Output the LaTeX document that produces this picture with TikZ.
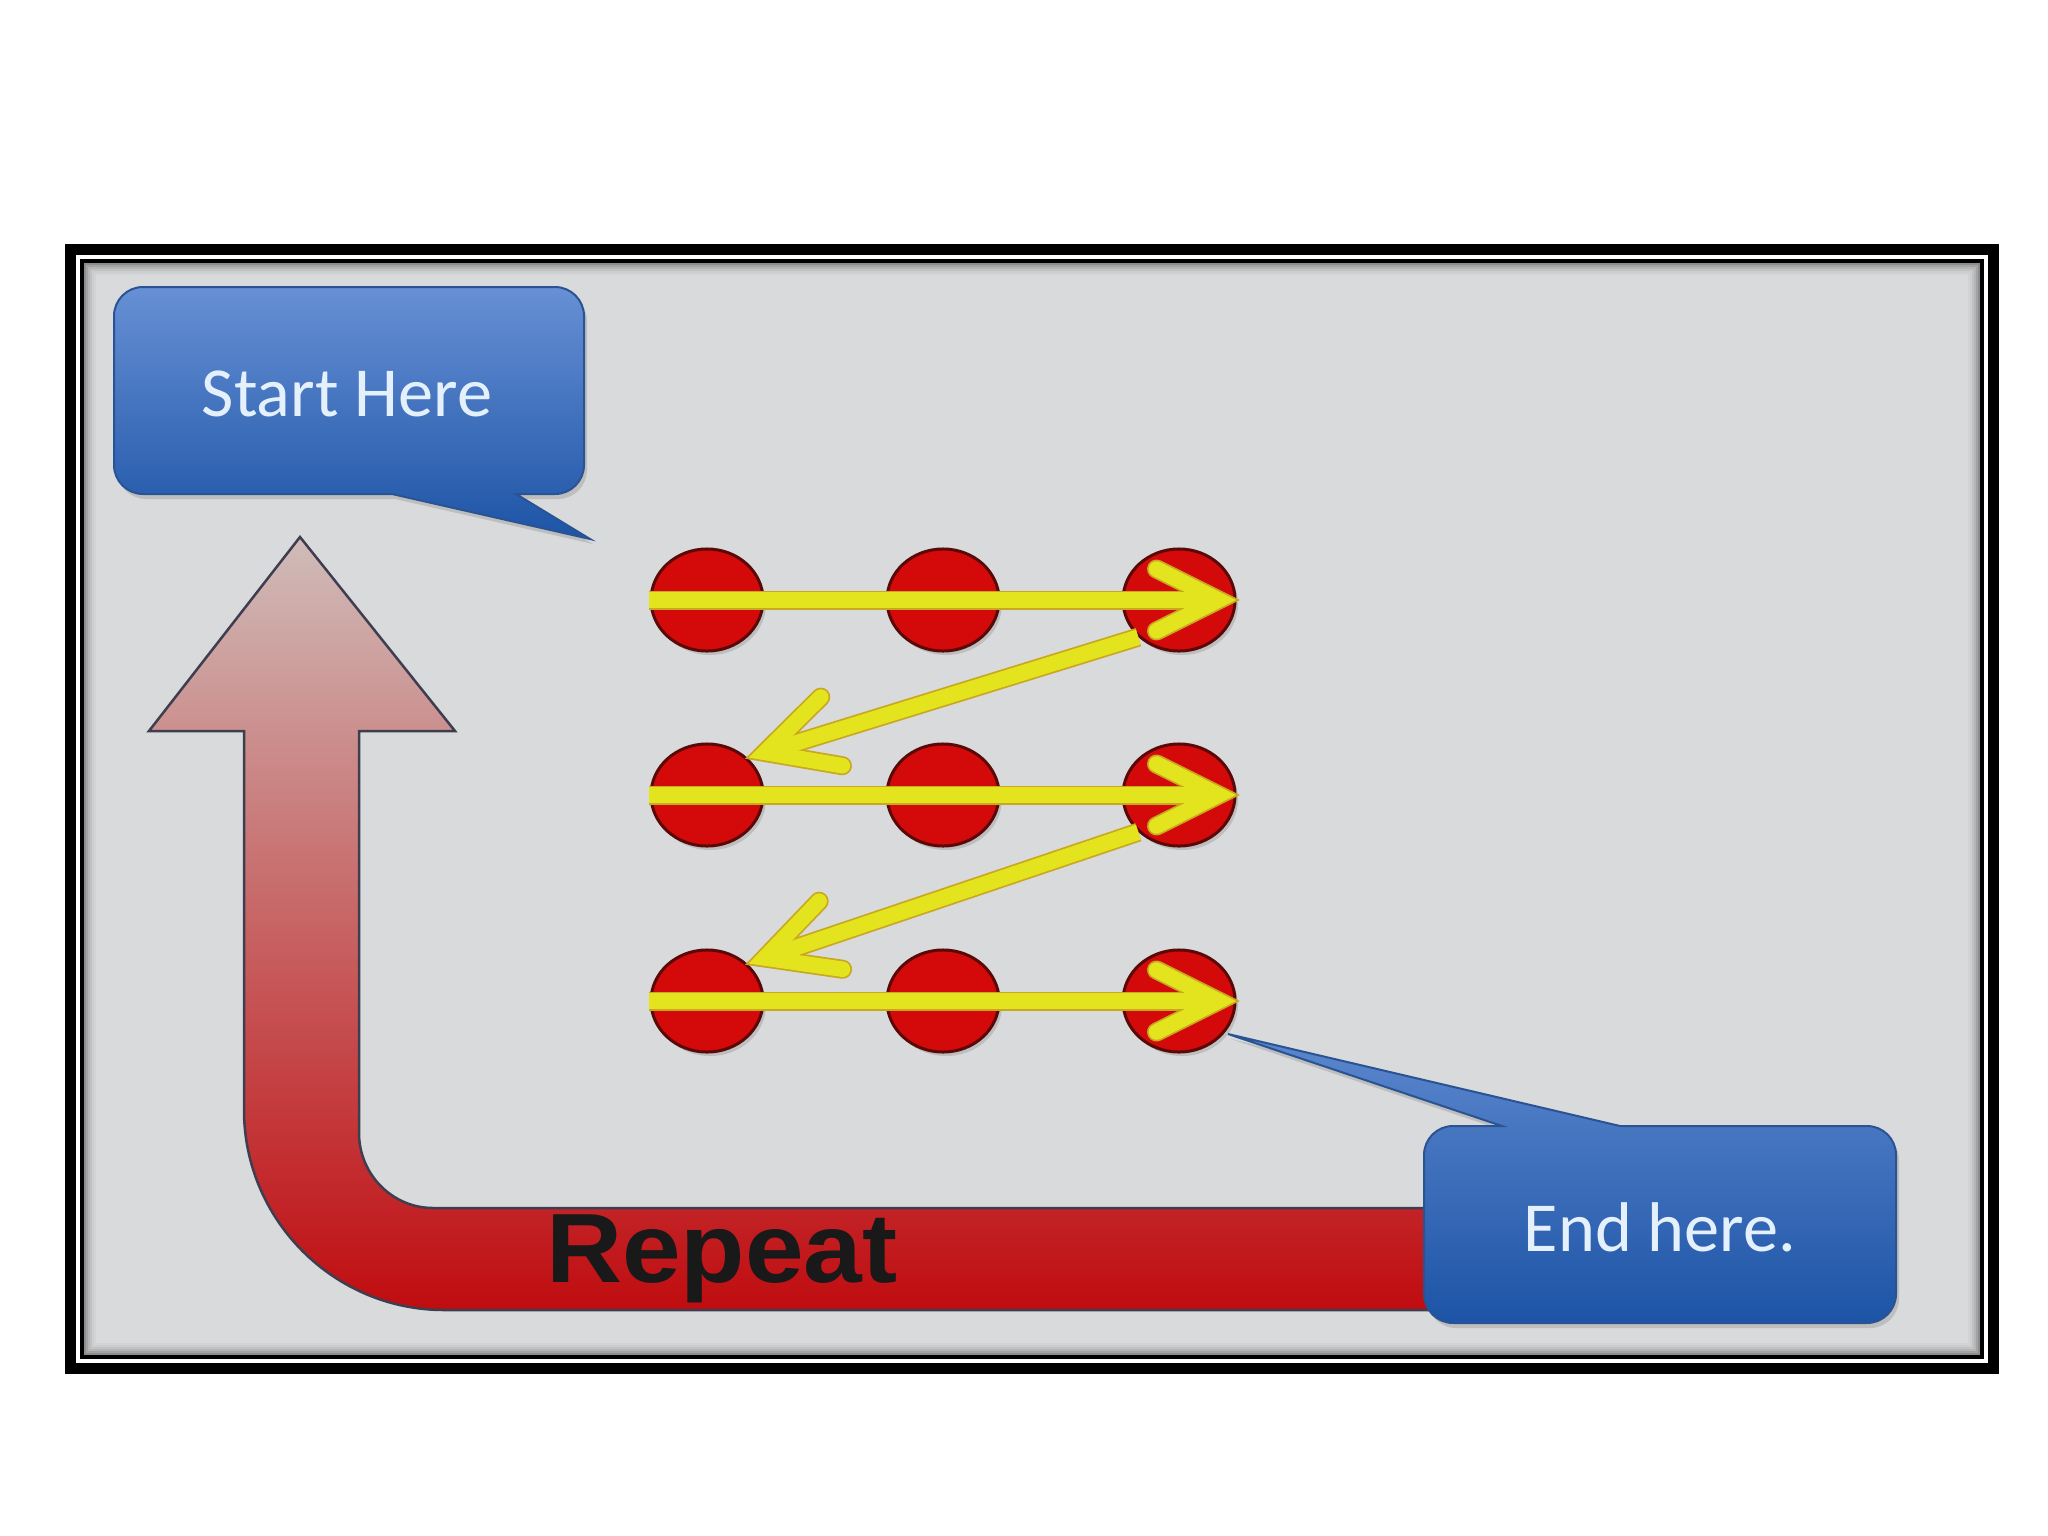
\documentclass[tikz,border=0pt]{standalone}
\usepackage{fontspec}
\usepackage{graphicx}
\newfontfamily\calfont{Carlito}
\newfontfamily\arialfont{Liberation Sans}
\usetikzlibrary{shapes.geometric,calc,shadows}
\definecolor{bgray}{HTML}{D9DADB}
\definecolor{dotred}{HTML}{D40A0A}
\definecolor{dotedge}{HTML}{5A0808}
\definecolor{yel}{HTML}{E4E41E}
\definecolor{yeledge}{HTML}{C8A81E}
\definecolor{btop}{HTML}{6790D5}
\definecolor{bbot}{HTML}{1D54A6}
\definecolor{bedge}{HTML}{2A5394}
\definecolor{rtop}{HTML}{CFBCB9}
\definecolor{rmid}{HTML}{BC7571}
\definecolor{rbot}{HTML}{C00C10}
\definecolor{redge}{HTML}{3E3E50}
\definecolor{txtblue}{HTML}{E4F0FB}
\tikzset{
  dot/.style={ellipse, minimum width=1.12cm, minimum height=1.02cm, inner sep=0pt,
    fill=dotred, draw=dotedge, line width=0.03cm,
    drop shadow={shadow xshift=0.03cm, shadow yshift=-0.04cm, opacity=0.3}},
  ydark/.style={draw=yeledge, line width=0.19cm},
  ylight/.style={draw=yel, line width=0.155cm},
  callout/.style={draw=bedge, line width=0.02cm, top color=btop, bottom color=bbot,
    drop shadow={shadow xshift=0.03cm, shadow yshift=-0.05cm, opacity=0.3}},
  redarrow/.style={draw=redge, line width=0.025cm, top color=rtop, middle color=rmid, bottom color=rbot},
  btext/.style={text=txtblue, font=\calfont\fontsize{20}{24}\selectfont, inner sep=0pt, anchor=base},
  chev/.pic={\draw[pic actions] (-80,31) -- (-18,0) -- (-80,-31);},
  chevbig/.pic={\draw[pic actions] (-88,36) -- (-18,0) -- (-88,-36);}
}
\newcommand{\zarrows}[1]{%
  \foreach \r in {1,2,3}{%
    \draw[#1, line cap=butt] (d\r1.west) -- ($(d\r3.east)+(-18,0)$);
    \pic[#1, line cap=round, line join=miter] at (d\r3.east) {chev};
  }
  \draw[#1, line cap=butt] (d13.south west) -- ($(d21.north east)!0.18cm!(d13.south west)$);
  \pic[#1, line cap=round, line join=miter, rotate=197.5] at (d21.north east) {chevbig};
  \draw[#1, line cap=butt] (d23.south west) -- ($(d31.north east)!0.18cm!(d23.south west)$);
  \pic[#1, line cap=round, line join=miter, rotate=199] at (d31.north east) {chevbig};
}
\begin{document}
\begin{tikzpicture}[x=0.01cm,y=-0.01cm]
\useasboundingbox (0,0) rectangle (2048,1536);
\fill[white] (0,0) rectangle (2048,1536);
% frame
\fill[bgray] (84,263) rectangle (1980,1355);
\foreach \i/\o in {0/0.35,2/0.25,4/0.17,6/0.11,8/0.06,10/0.03}
  \draw[black, opacity=\o, line width=0.02cm] ({85+\i},{264+\i}) rectangle ({1979-\i},{1354-\i});
\draw[black, line width=0.04cm] (82,261) rectangle (1982,1357);
\draw[black, line width=0.11cm] (70.5,249.5) rectangle (1993.5,1368.5);
% red U-turn arrow
\path[redarrow] (300,537) -- (455,731) -- (359,731) -- (359,1133)
  .. controls (359,1174) and (392,1208) .. (433,1208) -- (1460,1208) -- (1460,1310) -- (444,1310)
  .. controls (334,1310) and (244,1220) .. (244,1110) -- (244,731) -- (149,731) -- cycle;
\node[inner sep=0pt, anchor=base, font=\arialfont\bfseries\fontsize{28}{32}\selectfont, text=black!90] (rep) at (722,1282) {\scalebox{1.07}[1]{Repeat}};
% start callout
\path[callout] (114,400) [rounded corners=0.29cm] -- (114,287) -- (584,287) -- (584,494)
  [sharp corners] -- (516,494) -- (590,539) -- (392,494) [rounded corners=0.29cm] -- (114,494) -- cycle;
\node[btext] (start) at (347,416) {Start Here};
% dots
\foreach \r/\y in {1/600,2/795,3/1001}{
  \foreach \c/\x in {1/707,2/943,3/1179}{
    \node[dot] (d\r\c) at (\x,\y) {};
  }
}
% yellow zigzag arrows
\zarrows{ydark}
\zarrows{ylight}
% end callout
\path[callout, top color=btop!85!bbot] (1424,1220) [rounded corners=0.29cm] -- (1424,1126)
  [sharp corners] -- (1502,1126) -- (1228,1034) -- (1620,1126) [rounded corners=0.29cm] -- (1896,1126) -- (1896,1323) -- (1424,1323) -- cycle;
\node[btext] (end) at (1660,1251) {End here.};
\end{tikzpicture}
\end{document}
